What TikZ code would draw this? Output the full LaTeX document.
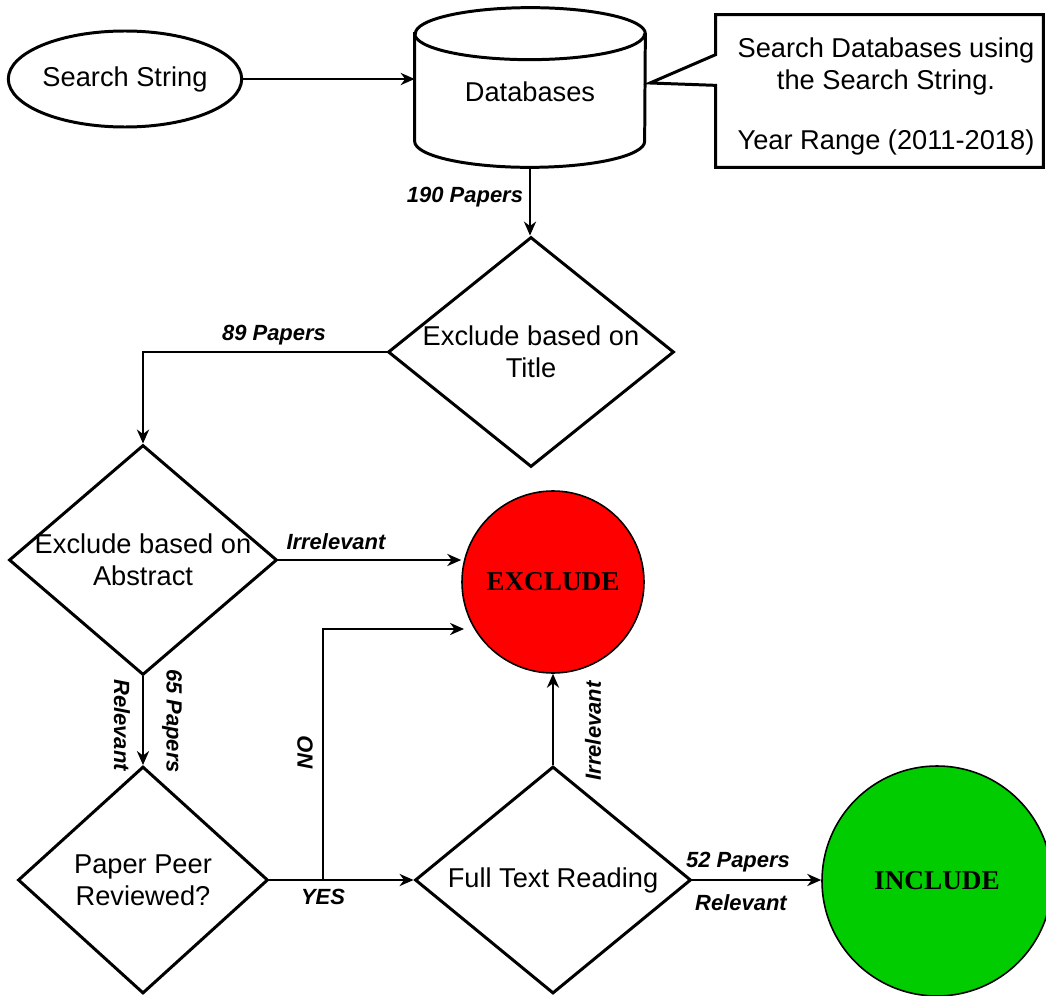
\documentclass[tikz,border=0pt]{standalone}
\usepackage{fontspec}
\setmainfont{Liberation Sans}
\newfontfamily\lblserif{Liberation Serif}
\usetikzlibrary{arrows.meta,shapes.geometric,calc}
\definecolor{exred}{HTML}{FF0000}
\definecolor{ingreen}{HTML}{00CC00}
\tikzset{
  box/.style={draw=black, line width=1.7pt, fill=white, inner sep=0pt},
  startnode/.style={box, ellipse, minimum width=4.64cm, minimum height=1.92cm, font=\fontsize{15.5}{18}\selectfont},
  dbbody/.style={inner sep=0pt, minimum width=4.6cm, minimum height=3.18cm},
  dbcap/.style={x radius=2.3cm, y radius=0.52cm},
  notebox/.style={inner sep=0pt, minimum width=6.54cm, minimum height=3.04cm},
  noteline/.style={draw=black, line width=1.7pt},
  decide/.style={box, diamond},
  dtext/.style={font=\fontsize{15.5}{18}\selectfont, align=center, inner sep=0pt},
  endnode/.style={circle, draw=black, line width=0.9pt, inner sep=0pt, font=\lblserif\bfseries\fontsize{15.5}{18}\selectfont},
  flow/.style={-{Stealth[length=8pt,width=7pt]}, line width=0.85pt},
  tag/.style={font=\bfseries\itshape\fontsize{12.5}{15}\selectfont, inner sep=0pt},
}

\begin{document}
\begin{tikzpicture}[x=1cm,y=1cm]
  \useasboundingbox (0,0) rectangle (20.920,-19.920);
  \clip (0,0) rectangle (20.920,-19.920);
  \node[startnode] (search) at (2.500,-1.580) {Search String};
  \node[dbbody] (db) at (10.600,-1.750) {};
  \path[box] ($(db.north west)+(0,-0.52)$) -- ($(db.south west)+(0,0.52)$) arc[start angle=180, end angle=360, dbcap]
    -- ($(db.north east)+(0,-0.52)$) arc[start angle=0, end angle=180, dbcap] -- cycle;
  \draw[box, fill=none] ($(db.north west)+(0,-0.52)$) arc[start angle=180, end angle=360, dbcap];
  \node[dtext] (dblabel) at (10.600,-1.840) {Databases};
  \node[notebox] (note) at (17.590,-1.820) {};
  \coordinate (tip) at (13.000,-1.660);
  \draw[noteline] (note.north west) -- (note.north east) -- (note.south east) -- (note.south west) -- ++(0,1.640) -- (tip) -- ($(note.north west)+(0,-0.800)$) -- cycle;
  \node[dtext] (notetext) at (17.720,-1.930) {Search Databases using\\the Search String.\\[16pt]Year Range (2011-2018)};
  \node[decide, minimum width=5.72cm, minimum height=4.60cm, label={[dtext]center:{Exclude based on\\Title}}] (title) at (10.620,-7.040) {};
  \node[decide, minimum width=5.36cm, minimum height=4.60cm, label={[dtext]center:{Exclude based on\\Abstract}}] (abstract) at (2.860,-11.200) {};
  \node[decide, minimum width=5.00cm, minimum height=4.54cm, label={[dtext]center:{Paper Peer\\Reviewed?}}] (peer) at (2.860,-17.600) {};
  \node[decide, minimum width=5.52cm, minimum height=4.54cm, label={[dtext]center:{Full Text Reading}}] (full) at (11.060,-17.600) {};
  \node[endnode, fill=exred, minimum size=3.64cm] (exclude) at (11.060,-11.640) {EXCLUDE};
  \node[endnode, fill=ingreen, minimum size=4.60cm] (include) at (18.740,-17.620) {INCLUDE};
  \coordinate (fork) at (6.460,-17.600);
  \coordinate (nohit) at (9.280,-12.580);
  \draw[flow] (search.east) -- (search.east -| db.west);
  \draw[flow] (db.south) -- (db.south |- title.north);
  \draw[flow] (title.west) -| (abstract.north);
  \draw[flow] (abstract.east) -- (abstract.east -| exclude.west);
  \draw[flow] (abstract.south) -- (peer.north);
  \draw[flow] (peer.east) -- (full.west);
  \draw[flow] (fork) |- (nohit);
  \draw[flow] (full.north) -- (exclude.south);
  \draw[flow] (full.east) -- (full.east -| include.west);
  \node[tag] (papers190) at (9.300,-3.940) {190 Papers};
  \node[tag] (papers89) at (5.480,-6.700) {89 Papers};
  \node[tag] (irrel1) at (6.720,-10.840) {Irrelevant};
  \node[tag, rotate=-90] (relev1) at (2.440,-14.500) {Relevant};
  \node[tag, rotate=-90] (papers65) at (3.440,-14.420) {65 Papers};
  \node[tag, rotate=90] (notag) at (6.100,-15.060) {NO};
  \node[tag] (yestag) at (6.460,-17.940) {YES};
  \node[tag, rotate=90] (irrel2) at (11.860,-14.620) {Irrelevant};
  \node[tag] (papers52) at (14.760,-17.240) {52 Papers};
  \node[tag] (relev2) at (14.820,-18.060) {Relevant};
\end{tikzpicture}
\end{document}
